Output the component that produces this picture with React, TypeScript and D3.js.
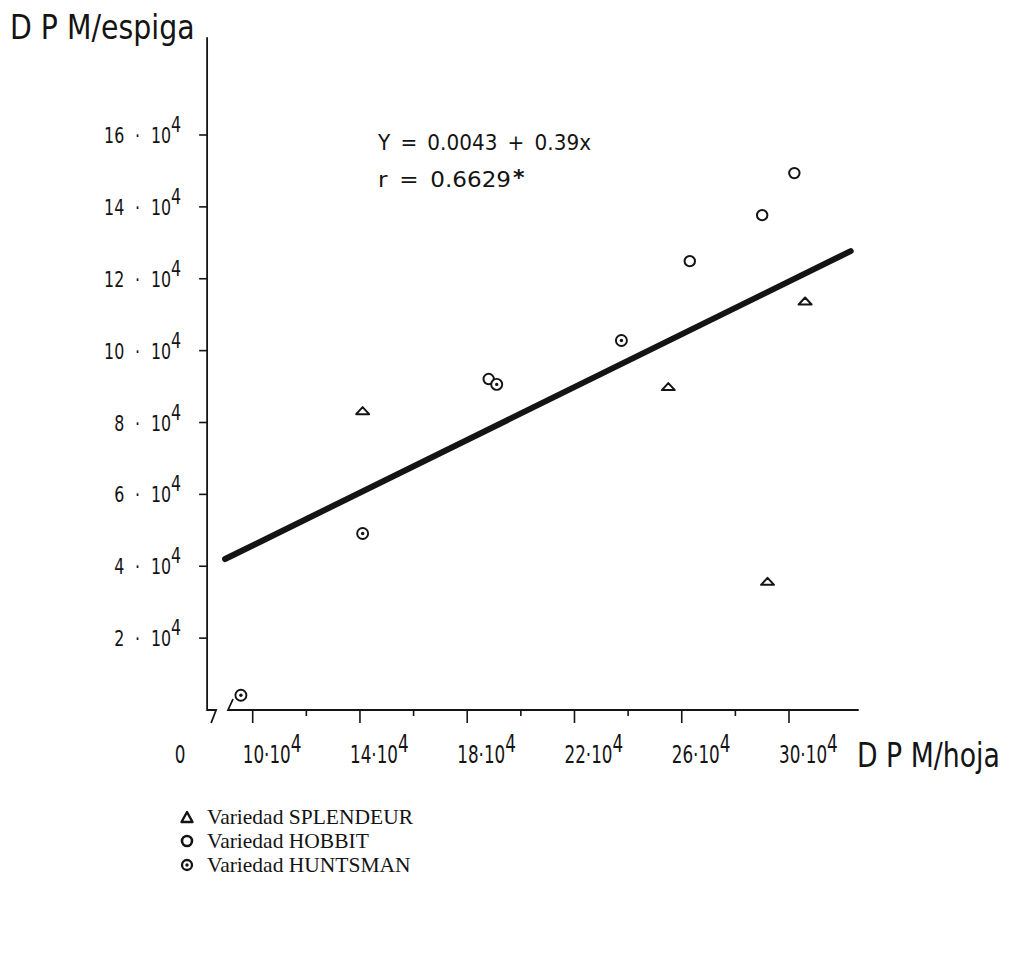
import * as d3 from 'd3';

const W = 1020;
const H = 956;

// values in units of 10^4 (x: DPM/hoja, y: DPM/espiga)
const splendeurX = [14.1, 25.5, 29.2, 30.6];
const splendeurY = [8.33, 9.0, 3.58, 11.38];
const hobbitX = [18.8, 26.3, 29.0, 30.2];
const hobbitY = [9.21, 12.49, 13.77, 14.94];
const huntsmanX = [9.56, 14.1, 19.1, 23.75];
const huntsmanY = [0.41, 4.91, 9.06, 10.28];

// regression line end points as drawn
const fitX = [8.97, 32.3];
const fitY = [4.2, 12.77];

const xMajor = [10, 14, 18, 22, 26, 30];
const xMinor = [12, 16, 20, 24, 28];
const yTicks = [2, 4, 6, 8, 10, 12, 14, 16];

const equation = 'Y = 0.0043 + 0.39x';
const corr = 'r = 0.6629';
const legendLabels = ['Variedad SPLENDEUR', 'Variedad HOBBIT', 'Variedad HUNTSMAN'];

const INK = '#141414';
const TICK_FONT = '"DejaVu Sans", sans-serif';

function Triangle({ cx, cy, w = 13, h = 7, sw = 2 }: any) {
  return (
    <path
      d={`M${cx - w / 2},${cy + h / 2}L${cx + w / 2},${cy + h / 2}L${cx},${cy - h / 2}Z`}
      fill="white" stroke={INK} strokeWidth={sw} strokeLinejoin="round"
    />
  );
}

function Ring({ cx, cy, r = 5, sw = 1.8, dot = false }: any) {
  return (
    <g>
      <circle cx={cx} cy={cy} r={r} fill="white" stroke={INK} strokeWidth={sw} />
      {dot && <circle cx={cx} cy={cy} r={1.7} fill={INK} />}
    </g>
  );
}

export default function App() {
  const x = d3.scaleLinear().domain([10, 30]).range([252.7, 789]);
  const y = d3.scaleLinear().domain([0, 16]).range([710, 135]);

  const yAxisX = x(8.3);
  const yTop = y(18.72);
  const y0 = y(0);
  const xStart = x(9.08);
  const xEnd = x(32.6);

  const line = d3.line<number>()
    .x((_, i) => x(fitX[i]))
    .y((_, i) => y(fitY[i]));

  return (
    <svg width={W} height={H} style={{ position: 'absolute', left: 0, top: 0, background: 'white' }}>
      {/* y axis with break */}
      <path
        d={`M${yAxisX},${yTop}L${yAxisX},${y0}L${yAxisX + 9},${y0}L${yAxisX + 4},${y0 + 13}`}
        fill="none" stroke={INK} strokeWidth={1.8}
      />
      {/* x axis */}
      <path
        d={`M${xStart + 5},${y0 - 11}L${xStart},${y0}L${xEnd},${y0}`}
        fill="none" stroke={INK} strokeWidth={1.8}
      />

      {/* y ticks */}
      {yTicks.map(t => (
        <g key={'yt' + t}>
          <line x1={yAxisX - 8} x2={yAxisX} y1={y(t)} y2={y(t)} stroke={INK} strokeWidth={1.6} />
          <g transform={`translate(${yAxisX - 26},${y(t) + 8}) scale(0.72,1)`}>
            <text x={0} y={0} textAnchor="end" fontFamily={TICK_FONT} fontSize={22} fill={INK} wordSpacing={8}>
              {`${t} · 10`}
              <tspan dy={-11}>4</tspan>
            </text>
          </g>
        </g>
      ))}

      {/* x ticks */}
      {xMajor.map(t => (
        <g key={'xt' + t}>
          <line x1={x(t)} x2={x(t)} y1={y0} y2={y0 + 13} stroke={INK} strokeWidth={1.6} />
          <g transform={`translate(${x(t) - 10},${y0 + 53}) scale(0.7,1)`}>
            <text x={0} y={0} fontFamily={TICK_FONT} fontSize={24} fill={INK}>
              {`${t}·10`}
              <tspan dy={-11}>4</tspan>
            </text>
          </g>
        </g>
      ))}
      {xMinor.map(t => (
        <line key={'xm' + t} x1={x(t)} x2={x(t)} y1={y0} y2={y0 + 6} stroke={INK} strokeWidth={1.6} />
      ))}
      <g transform={`translate(180,${y0 + 53}) scale(0.7,1)`}>
        <text x={0} y={0} textAnchor="middle" fontFamily={TICK_FONT} fontSize={24} fill={INK}>0</text>
      </g>

      {/* axis titles */}
      <g transform="translate(10,39) scale(0.86,1)">
        <text x={0} y={0} fontFamily={TICK_FONT} fontSize={33} fill={INK}>D P M/espiga</text>
      </g>
      <g transform="translate(857,767) scale(0.81,1)">
        <text x={0} y={0} fontFamily={TICK_FONT} fontSize={33} fill={INK}>D P M/hoja</text>
      </g>

      {/* equation */}
      <text x={378} y={150} fontFamily={TICK_FONT} fontSize={21} fill={INK}
        textLength={213} lengthAdjust="spacingAndGlyphs" wordSpacing={4}>{equation}</text>
      <text x={378} y={187} fontFamily={TICK_FONT} fontSize={21} fill={INK}
        textLength={133} lengthAdjust="spacingAndGlyphs" wordSpacing={4}>{corr}</text>
      <text x={513} y={185} fontFamily={TICK_FONT} fontSize={22} fontWeight="bold" fill={INK}>*</text>

      {/* regression line */}
      <path d={line(fitX) || ''} fill="none" stroke={INK} strokeWidth={6} strokeLinecap="round" />

      {/* points */}
      {splendeurX.map((v, i) => (
        <Triangle key={'s' + i} cx={x(v)} cy={y(splendeurY[i])} />
      ))}
      {hobbitX.map((v, i) => (
        <Ring key={'h' + i} cx={x(v)} cy={y(hobbitY[i])} r={5.2} sw={2} />
      ))}
      {huntsmanX.map((v, i) => (
        <Ring key={'u' + i} cx={x(v)} cy={y(huntsmanY[i])} r={5.5} sw={1.9} dot />
      ))}

      {/* legend */}
      {legendLabels.map((lab, i) => {
        const cy = 817 + i * 24;
        return (
          <g key={lab}>
            {i === 0 && <Triangle cx={187} cy={cy} w={11} h={10} sw={2.4} />}
            {i === 1 && <Ring cx={187} cy={cy} r={5} sw={2.6} />}
            {i === 2 && <Ring cx={187} cy={cy} r={5} sw={2.3} dot />}
            <text x={207} y={cy + 7} fontFamily='"Liberation Serif", serif' fontSize={21.5} fill={INK}>{lab}</text>
          </g>
        );
      })}
    </svg>
  );
}
